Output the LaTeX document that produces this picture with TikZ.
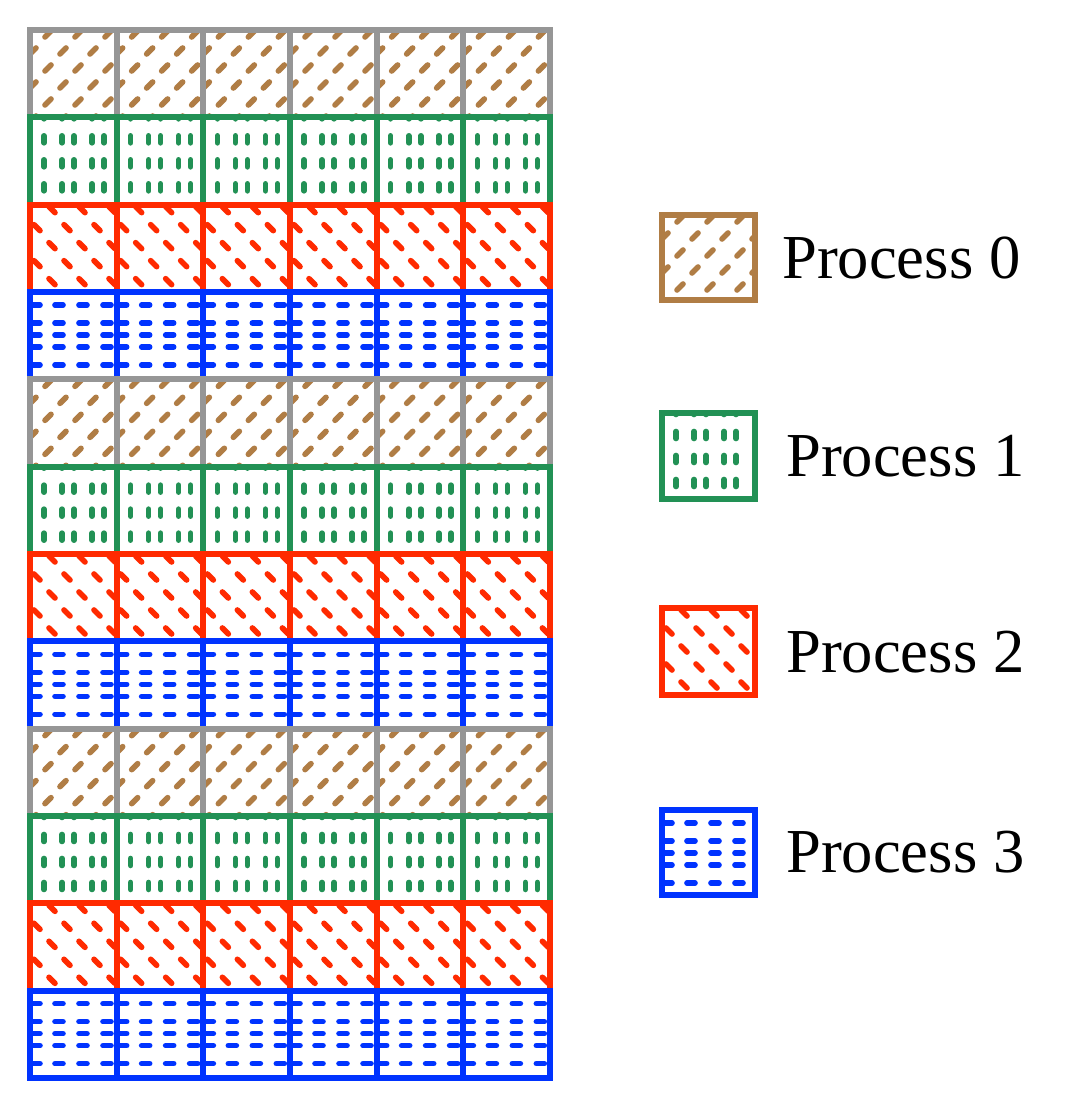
\documentclass[tikz,border=0pt]{standalone}
\usepackage{fontspec}
\setmainfont{Liberation Serif}
\begin{document}
\definecolor{pg}{HTML}{969696}
\definecolor{pb}{HTML}{B07D45}
\definecolor{pgr}{HTML}{229155}
\definecolor{pr}{HTML}{FF2A00}
\definecolor{pbl}{HTML}{0033FF}
\begin{tikzpicture}[x=0.025cm,y=-0.025cm,
  dot/.style={line width=4pt,line cap=round},
  bd/.style={line width=4.2pt,line join=miter}]
\useasboundingbox (0,0) rectangle (1080,1108);
\newcommand\patA[4]{% diagonal /
 \foreach \j in {0,...,5}{\foreach \i in {-1,...,3}{%
  \pgfmathsetmacro\px{#1+\i*30+mod(\j,2)*15+18}\pgfmathsetmacro\py{#2+\j*17+4}%
  \draw[dot,pb] (\px,\py) +(-3,3) -- +(3,-3);}}}
\newcommand\patB[4]{% vertical
 \foreach \j in {0,...,4}{\foreach \dx in {14,32,44,62,74}{%
  \pgfmathsetmacro\px{#1+\dx}\pgfmathsetmacro\py{#2+\j*24-2}%
  \draw[dot,pgr] (\px,\py) +(0,-3.5) -- +(0,3.5);}}}
\newcommand\patC[4]{% diagonal \
 \foreach \j in {0,...,5}{\foreach \i in {-1,...,3}{%
  \pgfmathsetmacro\px{#1+\i*30+mod(\j,2)*15+22}\pgfmathsetmacro\py{#2+\j*18+5}%
  \draw[dot,pr] (\px,\py) +(-3,-3) -- +(3,3);}}}
\newcommand\patD[4]{% horizontal
 \foreach \dy in {13,31,43,55,73}{\foreach \dx in {6,29,53,77}{%
  \pgfmathsetmacro\px{#1+\dx}\pgfmathsetmacro\py{#2+\dy}%
  \draw[dot,pbl] (\px,\py) +(-4,0) -- +(4,0);}}}
\newcommand\pcell[6]{%
 \begin{scope}\clip (#2,#3) rectangle ++(#4,#5);
 \ifcase#1 \patA{#2}{#3}{#4}{#5}\or\patB{#2}{#3}{#4}{#5}\or\patC{#2}{#3}{#4}{#5}\or\patD{#2}{#3}{#4}{#5}\fi
 \end{scope}
 \draw[bd,#6] (#2,#3) rectangle ++(#4,#5);}
\foreach \r in {0,...,11}{\foreach \c in {0,...,5}{%
  \pgfmathtruncatemacro\t{mod(\r,4)}%
  \pgfmathsetmacro\xx{30+\c*86.67}\pgfmathsetmacro\yy{30+\r*87.33}%
  \ifcase\t \def\bc{pg}\or\def\bc{pgr}\or\def\bc{pr}\or\def\bc{pbl}\fi
  \pcell{\t}{\xx}{\yy}{86.67}{87.33}{\bc}}}
\pcell{0}{662}{215}{93}{85}{pb}
\pcell{1}{662}{413}{93}{86}{pgr}
\pcell{2}{662}{608}{93}{87}{pr}
\pcell{3}{662}{810}{93}{85}{pbl}
\begin{scope}[every node/.style={anchor=west,font=\fontsize{44.5pt}{50pt}\selectfont,inner sep=0pt}]
\node (l0) at (782,258) {Process 0};
\node (l1) at (786,456) {Process 1};
\node (l2) at (786,652) {Process 2};
\node (l3) at (786,852) {Process 3};
\end{scope}
\end{tikzpicture}
\end{document}
